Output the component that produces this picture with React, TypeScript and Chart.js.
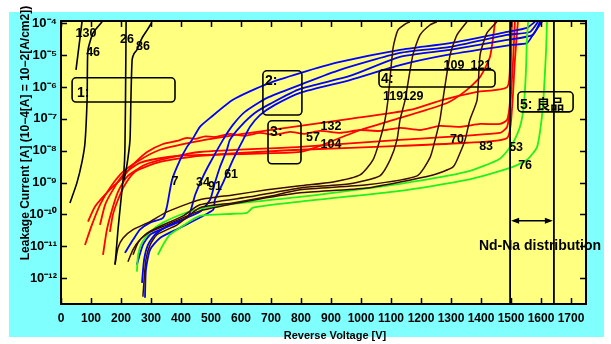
import { useEffect, useRef } from "react";
import { Chart, registerables } from "chart.js";

Chart.register(...registerables);

// ---------- axis ----------
const X_TICKS = [0, 100, 200, 300, 400, 500, 600, 700, 800, 900, 1000, 1100, 1200, 1300, 1400, 1500, 1600, 1700];
const Y_EXPONENTS = [-4, -5, -6, -7, -8, -9, -10, -11, -12];
const X_MIN = 0;
const X_MAX = 1750;
const Y_LOG_MIN = -12.816;
const Y_LOG_MAX = -3.925;

// ---------- curves: reverse voltage [V] and log10 of leakage current [A] ----------
// black (far left)
const K130A_V = [30, 53, 70, 80, 87, 88, 90, 107, 137];
const K130A_LOG = [-9.64, -9.01, -8.35, -7.75, -6.40, -5.46, -4.83, -4.30, -3.95];
const K130B_V = [50, 70];
const K130B_LOG = [-5.46, -3.95];
const K26_V = [180, 183, 190, 200, 210, 213, 215, 217];
const K26_LOG = [-11.58, -11.27, -10.48, -9.54, -8.60, -7.97, -6.40, -3.95];
const K86_V = [210, 220, 230, 233, 237, 243, 253, 270, 287, 303];
const K86_LOG = [-8.92, -8.44, -7.66, -6.40, -5.15, -4.96, -4.83, -4.46, -4.21, -3.97];

// red
const R1_V = [90, 113, 153, 180, 207, 240, 287, 340, 387, 420, 447, 480, 513, 563, 613, 663, 713, 763, 813, 863, 930, 997, 1063, 1130, 1197, 1263, 1330, 1397, 1463, 1487, 1497, 1500, 1503];
const R1_LOG = [-10.23, -9.76, -9.32, -9.07, -8.82, -8.44, -8.04, -7.79, -7.69, -7.60, -7.63, -7.55, -7.57, -7.47, -7.53, -7.44, -7.50, -7.41, -7.47, -7.38, -7.44, -7.35, -7.38, -7.28, -7.35, -7.22, -7.25, -7.16, -7.16, -7.03, -6.40, -5.15, -3.95];
const R2_V = [80, 103, 130, 163, 207, 263, 330, 463, 630, 797, 963, 1163, 1273, 1387, 1487, 1497, 1500];
const R2_LOG = [-10.96, -10.33, -9.70, -9.17, -8.66, -8.29, -7.97, -7.69, -7.44, -7.22, -7.00, -6.72, -6.40, -6.15, -6.00, -5.15, -3.95];
const R3_V = [130, 147, 173, 207, 263, 363, 463, 630, 797, 863, 997, 1130, 1287, 1353, 1397, 1430, 1447];
const R3_LOG = [-10.33, -9.70, -9.23, -8.76, -8.38, -8.19, -8.13, -8.10, -8.04, -7.85, -7.35, -6.97, -6.50, -6.09, -5.68, -5.05, -3.95];
const R4_V = [140, 153, 170, 190, 220, 280, 363, 463, 797, 1130, 1463, 1487, 1497, 1507, 1513];
const R4_LOG = [-11.27, -10.48, -9.86, -9.29, -8.82, -8.44, -8.22, -8.04, -7.88, -7.66, -7.44, -7.25, -6.62, -5.15, -3.95];
const R5_V = [163, 173, 190, 213, 247, 330, 463, 797, 1130, 1353, 1487, 1503, 1513, 1523];
const R5_LOG = [-10.55, -10.01, -9.54, -9.07, -8.66, -8.35, -8.16, -7.97, -7.85, -7.75, -7.60, -6.72, -5.15, -3.95];

// blue
const B1_V = [213, 240, 263, 297, 340, 353, 370, 397, 420, 437, 463, 497, 573, 687, 797, 930, 1130, 1297, 1487, 1553, 1580];
const B1_LOG = [-11.21, -10.80, -10.48, -10.26, -10.11, -9.76, -8.92, -8.29, -7.88, -7.66, -7.25, -6.97, -6.40, -5.90, -5.56, -5.21, -4.83, -4.62, -4.27, -4.14, -3.95];
const B2_V = [253, 273, 297, 347, 423, 447, 473, 497, 540, 573, 613, 687, 797, 930, 1130, 1297, 1487, 1563, 1590];
const B2_LOG = [-11.58, -10.96, -10.64, -10.42, -10.08, -9.39, -8.82, -8.38, -7.66, -7.19, -6.78, -6.34, -5.93, -5.46, -4.93, -4.74, -4.36, -4.27, -3.95];
const B3_V = [270, 277, 290, 313, 363, 463, 497, 513, 530, 553, 563, 597, 647, 697, 797, 963, 1130, 1297, 1487, 1573, 1597];
const B3_LOG = [-12.15, -11.42, -10.96, -10.64, -10.33, -9.92, -9.54, -9.01, -8.51, -7.97, -7.66, -7.25, -6.81, -6.53, -6.06, -5.65, -5.05, -4.83, -4.52, -4.36, -3.95];
const B4_V = [280, 283, 297, 330, 397, 507, 513, 540, 573, 607, 630, 663, 713, 797, 963, 1130, 1287, 1497, 1553, 1573, 1603];
const B4_LOG = [-12.62, -11.74, -11.11, -10.74, -10.42, -9.86, -9.54, -9.01, -8.29, -7.66, -7.25, -6.88, -6.56, -6.18, -5.78, -5.31, -4.99, -4.68, -4.62, -4.36, -3.95];

// dark brown
const BRA_V = [180, 190, 207, 240, 297, 353, 463, 573, 687, 797, 907, 997, 1040, 1063, 1080, 1090, 1107, 1123, 1147, 1163];
const BRA_LOG = [-11.58, -11.05, -10.74, -10.48, -10.23, -9.92, -9.54, -9.39, -9.23, -9.10, -8.98, -8.76, -8.29, -7.66, -7.03, -6.40, -4.77, -4.21, -4.02, -3.95];
const BRB_V = [240, 257, 280, 320, 407, 463, 630, 797, 963, 1063, 1097, 1120, 1130, 1147, 1173, 1197, 1230, 1253];
const BRB_LOG = [-11.27, -10.89, -10.64, -10.42, -10.05, -9.70, -9.45, -9.17, -9.04, -8.79, -8.29, -7.66, -7.03, -6.40, -4.99, -4.36, -4.05, -3.95];
const BRC_V = [273, 277, 283, 297, 320, 387, 463, 573, 687, 797, 1020, 1187, 1230, 1247, 1263, 1273, 1297, 1320, 1353];
const BRC_LOG = [-12.59, -12.05, -11.42, -10.96, -10.64, -10.33, -9.79, -9.64, -9.45, -9.23, -9.07, -8.79, -8.22, -7.66, -7.03, -6.40, -4.99, -4.36, -3.95];
const BRD_V = [223, 240, 263, 297, 353, 463, 630, 797, 1020, 1240, 1307, 1330, 1347, 1363, 1387, 1397, 1420, 1453];
const BRD_LOG = [-11.49, -11.11, -10.80, -10.55, -10.33, -9.89, -9.57, -9.32, -9.17, -8.76, -8.51, -8.07, -7.66, -7.03, -6.40, -4.99, -4.30, -3.95];

// green
const G1_V = [253, 257, 270, 297, 340, 407, 463, 573, 797, 1130, 1353, 1463, 1507, 1530, 1543, 1550, 1553, 1557];
const G1_LOG = [-11.80, -11.27, -10.89, -10.55, -10.26, -9.98, -9.83, -9.67, -9.45, -9.04, -8.66, -8.25, -7.75, -7.25, -6.56, -5.46, -4.52, -3.95];
const G2_V = [323, 340, 363, 397, 463, 573, 620, 640, 797, 1130, 1353, 1497, 1553, 1587, 1603, 1610, 1617, 1620];
const G2_LOG = [-11.27, -10.96, -10.64, -10.42, -10.05, -9.98, -9.95, -9.79, -9.60, -9.26, -8.92, -8.54, -8.29, -7.88, -6.94, -6.09, -4.83, -3.95];

// ---------- curve labels ----------
const LABEL_TEXT = ["130", "46", "26", "86", "7", "34", "91", "61", "132", "57", "104", "109", "121", "119", "129", "70", "83", "53", "76"];
const LABEL_V = [83, 107, 220, 273, 380, 473, 513, 567, 900, 840, 900, 1310, 1400, 1107, 1173, 1320, 1417, 1517, 1547];
const LABEL_LOG = [-4.33, -4.93, -4.52, -4.74, -8.98, -9.01, -9.13, -8.76, -7.25, -7.60, -7.82, -5.34, -5.34, -6.31, -6.31, -7.66, -7.88, -7.91, -8.47];

// ---------- group boxes ----------
const BOX_TEXT = ["1:", "2:", "3:", "4:", "5: 良品"];
const BOX_V0 = [37, 673, 690, 1060, 1523];
const BOX_V1 = [380, 803, 800, 1447, 1707];
const BOX_LOG_TOP = [-5.71, -5.49, -7.06, -5.46, -6.15];
const BOX_LOG_BOTTOM = [-6.47, -6.88, -8.41, -6.00, -6.78];
const BOX_TEXT_V = [53, 680, 697, 1067, 1530];
const BOX_TEXT_LOG = [-6.18, -5.81, -7.41, -5.75, -6.56];

// ---------- Nd-Na distribution ----------
const DIST_V = [1497, 1643];
const DIST_ARROW_LOG = -10.2;
const DIST_TEXT = "Nd-Na distribution";
const DIST_TEXT_V = 1393;
const DIST_TEXT_LOG = -10.99;

const X_TITLE = "Reverse Voltage [V]";
const Y_TITLE = "Leakage Current [A] (10\u22124[A] = 10\u22122[A/cm2])";

const RED = "#ff0000";
const BLUE = "#0000ff";
const GREEN = "#22ee22";
const BROWN = "#3a0a00";
const BLACK = "#000000";
const CYAN = "#80ffff";
const YELLOW = "#ffff80";
const FONT = '"Liberation Sans", Arial, Helvetica, "Noto Sans CJK JP", sans-serif';

const SERIES = [
  { name: "130a", color: BLACK, width: 1.6, v: K130A_V, log: K130A_LOG },
  { name: "130b", color: BLACK, width: 1.6, v: K130B_V, log: K130B_LOG },
  { name: "26", color: BLACK, width: 1.6, v: K26_V, log: K26_LOG },
  { name: "86", color: BLACK, width: 1.6, v: K86_V, log: K86_LOG },
  { name: "brA", color: BROWN, width: 1.5, v: BRA_V, log: BRA_LOG },
  { name: "brB", color: BROWN, width: 1.5, v: BRB_V, log: BRB_LOG },
  { name: "brC", color: BROWN, width: 1.5, v: BRC_V, log: BRC_LOG },
  { name: "brD", color: BROWN, width: 1.5, v: BRD_V, log: BRD_LOG },
  { name: "g1", color: GREEN, width: 1.8, v: G1_V, log: G1_LOG },
  { name: "g2", color: GREEN, width: 1.8, v: G2_V, log: G2_LOG },
  { name: "b1", color: BLUE, width: 1.8, v: B1_V, log: B1_LOG },
  { name: "b2", color: BLUE, width: 1.8, v: B2_V, log: B2_LOG },
  { name: "b3", color: BLUE, width: 1.8, v: B3_V, log: B3_LOG },
  { name: "b4", color: BLUE, width: 1.8, v: B4_V, log: B4_LOG },
  { name: "r1", color: RED, width: 1.8, v: R1_V, log: R1_LOG },
  { name: "r2", color: RED, width: 1.8, v: R2_V, log: R2_LOG },
  { name: "r3", color: RED, width: 1.8, v: R3_V, log: R3_LOG },
  { name: "r4", color: RED, width: 1.8, v: R4_V, log: R4_LOG },
  { name: "r5", color: RED, width: 1.8, v: R5_V, log: R5_LOG },
];

const SUP = "\u2070\u00B9\u00B2\u00B3\u2074\u2075\u2076\u2077\u2078\u2079";
const sup = (n: number) =>
  String(n)
    .split("")
    .map((c) => (c === "-" ? "\u207B" : SUP[Number(c)]))
    .join("");

const backgroundPlugin = {
  id: "bgfill",
  beforeDraw(chart: any) {
    const { ctx, chartArea: a } = chart;
    ctx.save();
    ctx.fillStyle = "#ffffff";
    ctx.fillRect(0, 0, chart.width, chart.height);
    ctx.fillStyle = CYAN;
    ctx.fillRect(9, 12, 595, 325);
    ctx.fillStyle = YELLOW;
    ctx.fillRect(a.left, a.top, a.right - a.left, a.bottom - a.top);
    ctx.restore();
  },
};

const overlayPlugin = {
  id: "overlay",
  afterDatasetsDraw(chart: any) {
    const { ctx, chartArea: a, scales } = chart;
    const xs = scales.x;
    const ys = scales.y;
    const px = (v: number) => xs.getPixelForValue(v);
    const py = (l: number) => ys.getPixelForValue(Math.pow(10, l));
    ctx.save();

    // frame
    ctx.strokeStyle = BLACK;
    ctx.lineWidth = 2;
    ctx.strokeRect(a.left, a.top, a.right - a.left, a.bottom - a.top);

    // inward ticks
    ctx.lineWidth = 1.5;
    ctx.beginPath();
    X_TICKS.forEach((v) => {
      const x = Math.round(px(v)) + 0.5;
      ctx.moveTo(x, a.bottom);
      ctx.lineTo(x, a.bottom - 6);
      ctx.moveTo(x, a.top);
      ctx.lineTo(x, a.top + 6);
    });
    Y_EXPONENTS.forEach((e) => {
      const y = Math.round(py(e)) + 0.5;
      ctx.moveTo(a.left, y);
      ctx.lineTo(a.left + 6, y);
      ctx.moveTo(a.right, y);
      ctx.lineTo(a.right - 6, y);
    });
    ctx.stroke();

    // distribution lines and arrow
    ctx.lineWidth = 1.8;
    ctx.beginPath();
    DIST_V.forEach((v) => {
      const x = px(v);
      ctx.moveTo(x, a.top);
      ctx.lineTo(x, a.bottom);
    });
    ctx.stroke();
    const ax0 = px(DIST_V[0]) + 1;
    const ax1 = px(DIST_V[1]) - 1;
    const ay = py(DIST_ARROW_LOG);
    ctx.lineWidth = 1.5;
    ctx.beginPath();
    ctx.moveTo(ax0 + 4, ay);
    ctx.lineTo(ax1 - 4, ay);
    ctx.stroke();
    ctx.fillStyle = BLACK;
    ctx.beginPath();
    ctx.moveTo(ax0, ay);
    ctx.lineTo(ax0 + 8, ay - 3);
    ctx.lineTo(ax0 + 8, ay + 3);
    ctx.closePath();
    ctx.fill();
    ctx.beginPath();
    ctx.moveTo(ax1, ay);
    ctx.lineTo(ax1 - 8, ay - 3);
    ctx.lineTo(ax1 - 8, ay + 3);
    ctx.closePath();
    ctx.fill();

    // group boxes
    ctx.lineWidth = 1.6;
    BOX_TEXT.forEach((t, i) => {
      const x0 = px(BOX_V0[i]);
      const x1 = px(BOX_V1[i]);
      const y0 = py(BOX_LOG_TOP[i]);
      const y1 = py(BOX_LOG_BOTTOM[i]);
      ctx.beginPath();
      ctx.roundRect(x0, y0, x1 - x0, y1 - y0, 4);
      ctx.stroke();
      ctx.font = `bold 14px ${FONT}`;
      ctx.textAlign = "left";
      ctx.textBaseline = "middle";
      ctx.fillText(t, px(BOX_TEXT_V[i]), py(BOX_TEXT_LOG[i]));
    });

    // curve labels
    ctx.font = `bold 12.5px ${FONT}`;
    ctx.textAlign = "center";
    ctx.textBaseline = "middle";
    LABEL_TEXT.forEach((t, i) => {
      ctx.fillText(t, px(LABEL_V[i]), py(LABEL_LOG[i]));
    });

    // distribution text
    ctx.font = `bold 14px ${FONT}`;
    ctx.textAlign = "left";
    ctx.fillText(DIST_TEXT, px(DIST_TEXT_V), py(DIST_TEXT_LOG));

    // axis titles
    ctx.font = `bold 11px ${FONT}`;
    ctx.textAlign = "center";
    ctx.fillText(X_TITLE, 335, 336);
    ctx.save();
    ctx.translate(26, 133);
    ctx.rotate(-Math.PI / 2);
    ctx.font = `bold 12px ${FONT}`;
    ctx.fillText(Y_TITLE, 0, 0);
    ctx.restore();

    ctx.restore();
  },
};

export default function App() {
  const ref = useRef<HTMLCanvasElement | null>(null);

  useEffect(() => {
    if (!ref.current) return;
    const chart = new Chart(ref.current, {
      type: "scatter",
      data: {
        datasets: SERIES.map((s) => ({
          label: s.name,
          data: s.v.map((v, i) => ({ x: v, y: Math.pow(10, s.log[i]) })),
          showLine: true,
          borderColor: s.color,
          backgroundColor: s.color,
          borderWidth: s.width,
          pointRadius: 0,
          pointHoverRadius: 0,
          tension: 0.2,
        })),
      },
      options: {
        animation: false,
        responsive: false,
        events: [],
        layout: { padding: { left: 0, right: 25, top: 21, bottom: 0 }, autoPadding: false },
        plugins: {
          legend: { display: false },
          tooltip: { enabled: false },
          title: { display: false },
        },
        scales: {
          x: {
            type: "linear",
            min: X_MIN,
            max: X_MAX,
            grid: { display: false, drawTicks: false },
            border: { display: false },
            afterBuildTicks: (s: any) => {
              s.ticks = X_TICKS.map((v) => ({ value: v }));
            },
            afterFit: (s: any) => {
              s.height = 40;
            },
            ticks: {
              color: BLACK,
              padding: 7,
              maxRotation: 0,
              autoSkip: false,
              font: { family: FONT, size: 12, weight: "bold" },
              callback: (v: any) => String(v),
            },
          },
          y: {
            type: "logarithmic",
            min: Math.pow(10, Y_LOG_MIN),
            max: Math.pow(10, Y_LOG_MAX),
            grid: { display: false, drawTicks: false },
            border: { display: false },
            afterBuildTicks: (s: any) => {
              s.ticks = Y_EXPONENTS.map((e) => ({ value: Math.pow(10, e) }));
            },
            afterFit: (s: any) => {
              s.width = 61;
            },
            ticks: {
              color: BLACK,
              padding: 4,
              autoSkip: false,
              font: { family: FONT, size: 13, weight: "bold" },
              callback: (v: any) => "10" + sup(Math.round(Math.log10(Number(v)))),
            },
          },
        },
      } as any,
      plugins: [backgroundPlugin, overlayPlugin],
    });
    return () => chart.destroy();
  }, []);

  return (
    <div style={{ position: "fixed", left: 0, top: 0, width: 611, height: 344, background: "#fff" }}>
      <canvas ref={ref} width={611} height={344} style={{ display: "block", width: 611, height: 344 }} />
    </div>
  );
}
